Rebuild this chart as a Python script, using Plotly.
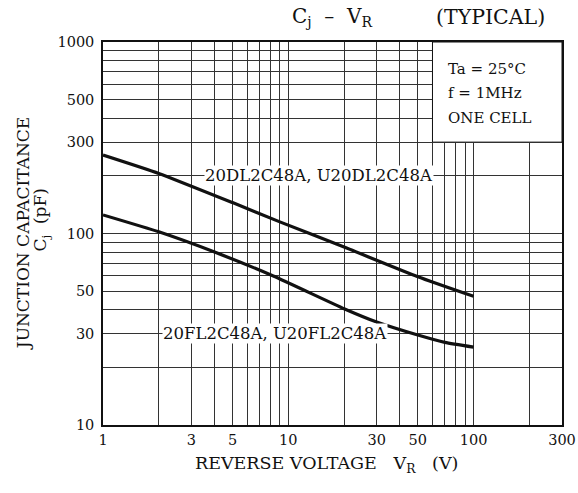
import numpy as np
import plotly.graph_objects as go

# ---- data ----
vr_dl = [1, 2, 5, 9, 20, 50, 100]
cj_dl = [257, 206, 145, 115, 85, 59.5, 47]
vr_fl = [1, 2, 4, 8.3, 20, 30, 50, 70, 100]
cj_fl = [125, 102, 80, 60, 40.5, 34.5, 29.5, 27, 25.5]

x_ticks = [1, 3, 5, 10, 30, 50, 100, 300]
x_minor = [2, 4, 6, 7, 8, 9, 20, 40, 60, 70, 80, 90, 200]
y_ticks = [10, 30, 50, 100, 300, 500, 1000]
y_minor = [20, 40, 60, 70, 80, 90, 200, 400, 600, 700, 800, 900]

label_dl = "20DL2C48A, U20DL2C48A"
label_fl = "20FL2C48A, U20FL2C48A"
label_dl_at = (14.6, 200)
label_fl_at = (8.5, 30)
cond_box_v = (60, 300)
cond_box_c = (300, 1000)
cond_lines = ["Ta = 25°C", "f = 1MHz", "ONE CELL"]

FONT = "DejaVu Serif"
INK = "#111111"
GRID = "#333333"

fig = go.Figure()
fig.add_trace(go.Scatter(x=vr_dl, y=cj_dl, mode="lines",
                         line=dict(color=INK, width=3.2, shape="spline", smoothing=0.5),
                         hoverinfo="skip", showlegend=False))
fig.add_trace(go.Scatter(x=vr_fl, y=cj_fl, mode="lines",
                         line=dict(color=INK, width=3.2, shape="spline", smoothing=0.5),
                         hoverinfo="skip", showlegend=False))

# white condition box (covers the grid)
fig.add_shape(type="rect", xref="x", yref="y",
              x0=cond_box_v[0], x1=cond_box_v[1], y0=cond_box_c[0], y1=cond_box_c[1],
              fillcolor="white", line=dict(color=INK, width=1), layer="above")

anns = []
anns.append(dict(x=np.log10(label_dl_at[0]), y=np.log10(label_dl_at[1]), xref="x", yref="y",
                 text=label_dl, showarrow=False, bgcolor="white",
                 font=dict(family=FONT, size=16.5, color=INK), borderpad=0))
anns.append(dict(x=np.log10(label_fl_at[0]), y=np.log10(label_fl_at[1]), xref="x", yref="y",
                 text=label_fl, showarrow=False, bgcolor="white",
                 font=dict(family=FONT, size=16.5, color=INK), borderpad=0))
for i, t in enumerate(cond_lines):
    anns.append(dict(x=0.747, y=0.93 - i * 0.064, xref="paper", yref="paper",
                     xanchor="left", yanchor="middle", text=t, showarrow=False,
                     font=dict(family=FONT, size=15, color=INK)))
# title
anns.append(dict(x=0.50, y=1.065, xref="paper", yref="paper", xanchor="center", yanchor="middle",
                 text="C<sub>j</sub>  –  V<sub>R</sub>", showarrow=False,
                 font=dict(family=FONT, size=20, color=INK)))
anns.append(dict(x=0.845, y=1.065, xref="paper", yref="paper", xanchor="center", yanchor="middle",
                 text="(TYPICAL)", showarrow=False,
                 font=dict(family=FONT, size=20.5, color=INK)))
# axis titles
anns.append(dict(x=0.488, y=-0.104, xref="paper", yref="paper", xanchor="center", yanchor="middle",
                 text="REVERSE VOLTAGE   V<sub>R</sub>   (V)", showarrow=False,
                 font=dict(family=FONT, size=17.5, color=INK)))
anns.append(dict(x=-0.175, y=0.5, xref="paper", yref="paper", xanchor="center", yanchor="middle",
                 text="JUNCTION CAPACITANCE", textangle=-90, showarrow=False,
                 font=dict(family=FONT, size=17, color=INK)))
anns.append(dict(x=-0.134, y=0.535, xref="paper", yref="paper", xanchor="center", yanchor="middle",
                 text="C<sub>j</sub>  (pF)", textangle=-90, showarrow=False,
                 font=dict(family=FONT, size=17, color=INK)))

fig.update_layout(
    width=578, height=493,
    margin=dict(l=103, r=16, t=42, b=68),
    paper_bgcolor="white", plot_bgcolor="white",
    font=dict(family=FONT, size=14, color=INK),
    annotations=anns,
    showlegend=False,
)
fig.update_xaxes(type="log", range=[0, np.log10(300)],
                 tickmode="array", tickvals=x_ticks, ticktext=[str(v) for v in x_ticks],
                 showgrid=True, gridcolor=GRID, gridwidth=1,
                 minor=dict(tickmode="array", tickvals=x_minor, showgrid=True,
                            gridcolor=GRID, gridwidth=1),
                 showline=True, linecolor=INK, linewidth=1.5, mirror=True,
                 ticks="", ticklabelstandoff=1, zeroline=False, automargin=False,
                 tickfont=dict(family=FONT, size=14.5, color=INK))
fig.update_yaxes(type="log", range=[1, 3],
                 tickmode="array", tickvals=y_ticks, ticktext=[str(v) for v in y_ticks],
                 showgrid=True, gridcolor=GRID, gridwidth=1,
                 minor=dict(tickmode="array", tickvals=y_minor, showgrid=True,
                            gridcolor=GRID, gridwidth=1),
                 showline=True, linecolor=INK, linewidth=1.5, mirror=True,
                 ticks="", ticklabelstandoff=4, zeroline=False, automargin=False,
                 tickfont=dict(family=FONT, size=14.5, color=INK))

# remove the browser's default page margin so the figure sits at the window origin
fig.write_html("out.html",
               config={"displayModeBar": False},
               post_script="document.body.style.margin='0px';document.body.style.overflow='hidden';")
